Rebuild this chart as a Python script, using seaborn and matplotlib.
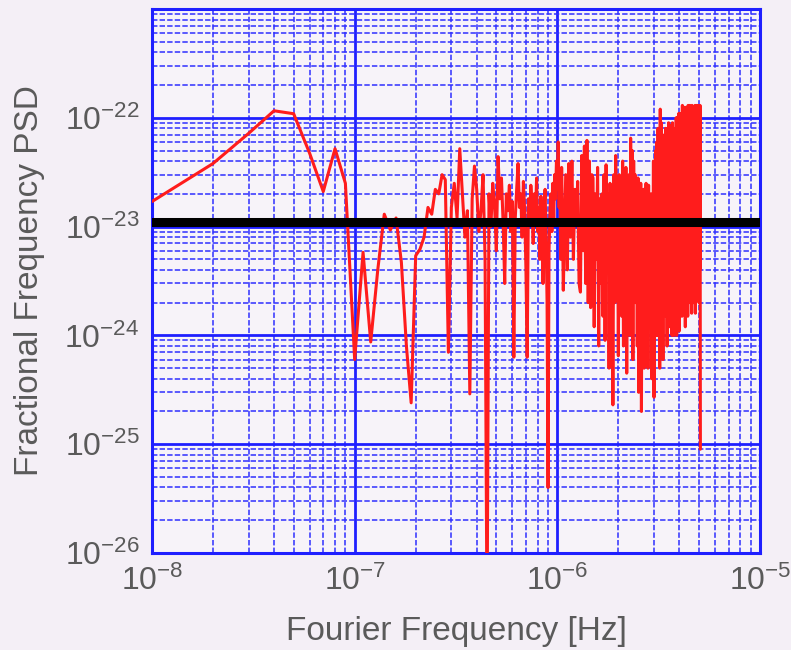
import numpy as np
import pandas as pd
import matplotlib
matplotlib.use("Agg")
import matplotlib.pyplot as plt
import matplotlib.ticker as mticker
import seaborn as sns

# ---------------- data ----------------
# Fourier frequency bins (in units of 1e-8 Hz)
bins_low = np.arange(1, 108)            # n = 1 .. 107
bins_high = np.arange(110, 510, 2)      # n = 110 .. 508 (every 2nd bin)

# PSD values in units of 1e-24
psd_low = [
    17, 38, 72, 116, 109, 47, 21, 52, 25, 0.6,
    5.8, 0.87, 4, 13, 9.3, 12, 4.7, 0.8, 0.24, 5.4,
    6.2, 8, 15, 13, 22, 20, 30, 27, 0.7, 15,
    25, 12, 52, 20, 8, 14, 0.29, 18, 36, 22,
    9, 14, 30, 5, 0.002, 20, 10, 25, 16, 6,
    44, 18, 28, 11, 3, 20, 14, 24, 9, 17,
    0.63, 12, 22, 38, 15, 20, 8, 26, 14, 4,
    0.63, 18, 11, 24, 16, 7, 20, 12, 28, 9,
    15, 5, 19, 10, 3, 14, 22, 8, 2, 0.04,
    6, 14, 20, 9, 25, 12, 30, 18, 40, 22,
    60, 15, 28, 5, 35, 12, 2.6,
]
psd_high = [
    30, 4, 38, 8, 40, 5, 22, 12, 26, 3,
    2.5, 45, 6, 55, 3, 62, 2, 40, 1.8, 30,
    28, 1.2, 20, 5, 35, 0.8, 18, 3, 20, 1.5,
    30, 0.9, 37, 4, 20, 0.5, 25, 2, 12, 0.23,
    30, 2, 45, 6, 25, 0.65, 30, 3, 22, 1.5,
    40, 0.8, 28, 5, 35, 0.45, 20, 2, 30, 1,
    65, 3, 50, 0.6, 40, 5, 30, 2, 25, 0.8,
    28, 0.3, 20, 3, 25, 0.2, 18, 1.5, 22, 0.5,
    22, 1, 25, 4, 18, 0.5, 24, 2, 18, 1.5,
    20, 0.4, 16, 3, 40, 0.27, 30, 2, 50, 1,
    60, 1, 80, 5, 45, 0.5, 120, 3, 90, 2,
    70, 0.6, 60, 8, 50, 3, 80, 1.5, 60, 0.8,
    80, 4, 90, 1.2, 70, 6, 85, 2, 70, 1,
    90, 5, 75, 1, 60, 3, 80, 8, 100, 1,
    100, 2, 85, 6, 110, 1.1, 90, 4, 95, 3,
    110, 1.5, 130, 5, 100, 2.5, 120, 8, 125, 1.2,
    100, 3, 110, 6, 125, 1.5, 130, 4, 120, 5,
    130, 2, 125, 8, 115, 1.6, 130, 4, 120, 2,
    125, 6, 115, 3, 130, 1.6, 120, 5, 130, 2.5,
    120, 3, 130, 7, 125, 2, 115, 4, 130, 0.09,
]
threshold = 1.1e-23   # black reference level

freq = np.concatenate([bins_low, bins_high]) * 1e-8
psd = np.array(psd_low + psd_high, dtype=float) * 1e-24
df = pd.DataFrame({"freq": freq, "psd": psd})

x_ticks = [1e-8, 1e-7, 1e-6, 1e-5]
x_labels = [r"$10^{-8}$", r"$10^{-7}$", r"$10^{-6}$", r"$10^{-5}$"]
y_ticks = [1e-26, 1e-25, 1e-24, 1e-23, 1e-22]
y_labels = [r"$10^{-26}$", r"$10^{-25}$", r"$10^{-24}$", r"$10^{-23}$", r"$10^{-22}$"]

# ---------------- style ----------------
sns.set_theme(style="white")
bg = "#f4eff6"
txt = "#5a5a5a"
plt.rcParams["font.family"] = ["Liberation Sans", "DejaVu Sans"]
plt.rcParams["mathtext.default"] = "regular"
plt.rcParams["figure.facecolor"] = bg

fig = plt.figure(figsize=(7.91, 6.50), dpi=100)
ax = fig.add_axes([152 / 791, 1 - 553 / 650, (760 - 152) / 791, (553 - 9) / 650])
ax.set_facecolor("#f7f3f9")

sns.lineplot(data=df, x="freq", y="psd", ax=ax, color="#ff1c1c", linewidth=2.2,
             estimator=None, sort=False, zorder=3)
ax.axhline(threshold, color="black", linewidth=6.5, zorder=4)

ax.set_xscale("log")
ax.set_yscale("log")
ax.set_xlim(1e-8, 1e-5)
ax.set_ylim(1e-26, 1e-21)

ax.xaxis.set_major_locator(mticker.FixedLocator(x_ticks))
ax.xaxis.set_major_formatter(mticker.FixedFormatter(x_labels))
ax.yaxis.set_major_locator(mticker.FixedLocator(y_ticks + [1e-21]))
ax.yaxis.set_major_formatter(mticker.FixedFormatter(y_labels + [""]))
ax.xaxis.set_minor_locator(mticker.LogLocator(base=10, subs=np.arange(2, 10), numticks=20))
ax.yaxis.set_minor_locator(mticker.LogLocator(base=10, subs=np.arange(2, 10), numticks=20))
ax.xaxis.set_minor_formatter(mticker.NullFormatter())
ax.yaxis.set_minor_formatter(mticker.NullFormatter())

ax.grid(True, which="major", color="#1f1fff", linewidth=2.0, linestyle="-", zorder=1)
ax.grid(True, which="minor", color="#3030ff", linewidth=1.3, linestyle=(0, (3, 1.2)), alpha=0.85, zorder=1)
ax.set_axisbelow(True)

for s in ax.spines.values():
    s.set_color("#1f1fff")
    s.set_linewidth(2.2)

ax.tick_params(axis="both", which="major", labelsize=23, colors=txt, length=0, pad=9)
ax.tick_params(axis="both", which="minor", length=0)
for lab in ax.get_xticklabels() + ax.get_yticklabels():
    lab.set_color(txt)

ax.set_xlabel("Fourier Frequency [Hz]", fontsize=24, color=txt, labelpad=14)
ax.set_ylabel("Fractional Frequency PSD", fontsize=24, color=txt, labelpad=14)

fig.savefig("out.png", dpi=100, facecolor=bg)
